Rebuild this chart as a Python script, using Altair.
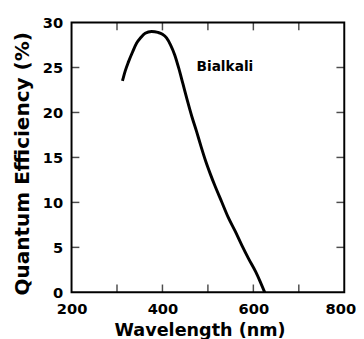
import altair as alt
import pandas as pd

wavelength = [312, 318, 325, 334, 343, 352, 362, 376, 390, 400, 409, 418, 427, 436, 445, 455,
              465, 475, 485, 495, 505, 515, 530, 545, 560, 575, 590, 605, 615, 625]
efficiency = [23.5, 24.6, 25.6, 26.7, 27.7, 28.3, 28.8, 29.0, 28.9, 28.7, 28.3, 27.5, 26.4, 24.9, 23.2, 21.3,
              19.5, 17.9, 16.2, 14.6, 13.2, 11.9, 10.1, 8.3, 6.8, 5.2, 3.7, 2.3, 1.2, 0.0]
x_ticks = [200, 300, 400, 500, 600, 700, 800]
y_ticks = [0, 5, 10, 15, 20, 25, 30]
x_inner_ticks = [300, 400, 500, 600, 700]
y_inner_ticks = [5, 10, 15, 20, 25]
label_text = ["Bialkali"]
label_x = [475]
label_y = [25.1]

FONT = "DejaVu Sans"
TICK = 8

curve = pd.DataFrame({"wl": wavelength, "qe": efficiency})
labels = pd.DataFrame({"wl": label_x, "qe": label_y, "t": label_text})
xt = pd.DataFrame({"wl": x_inner_ticks})
yt = pd.DataFrame({"qe": y_inner_ticks})

xscale = alt.Scale(domain=[200, 800], nice=False, zero=False)
yscale = alt.Scale(domain=[0, 30], nice=False)

xaxis = alt.Axis(
    orient="bottom", values=x_ticks, ticks=False, domain=False, grid=False,
    labelOverlap=False, labelFlush=False,
    labelExpr="datum.value % 200 == 0 ? datum.label : ''",
    labelOffset={"condition": {"test": "datum.value == 800", "value": -4}, "value": 0},
    labelPadding=10, labelFont=FONT, labelFontSize=15, labelFontWeight="bold", labelColor="black",
    title="Wavelength (nm)", titleFont=FONT, titleFontSize=18, titleFontWeight="bold",
    titleColor="black", titlePadding=5, titleX=131)
yaxis = alt.Axis(
    orient="left", values=y_ticks, ticks=False, domain=False, grid=False,
    labelOverlap=False, labelFlush=False,
    labelPadding=9, labelFont=FONT, labelFontSize=15, labelFontWeight="bold", labelColor="black",
    title="Quantum Efficiency (%)", titleFont=FONT, titleFontSize=20.5, titleFontWeight="bold",
    titleColor="black", titlePadding=10, titleY=144)

line = alt.Chart(curve).mark_line(color="black", strokeWidth=3, interpolate="monotone").encode(
    x=alt.X("wl:Q", scale=xscale, axis=xaxis),
    y=alt.Y("qe:Q", scale=yscale, axis=yaxis),
)

text = alt.Chart(labels).mark_text(
    align="left", baseline="middle", font=FONT, fontSize=14, fontWeight="bold", color="black"
).encode(
    x=alt.X("wl:Q", scale=xscale, axis=None),
    y=alt.Y("qe:Q", scale=yscale, axis=None),
    text="t:N",
)

bottom_ticks = alt.Chart(xt).mark_tick(
    orient="vertical", size=TICK, thickness=1.5, color="black", yOffset=-TICK / 2
).encode(x=alt.X("wl:Q", scale=xscale, axis=None), y=alt.YDatum(0, axis=None))
top_ticks = alt.Chart(xt).mark_tick(
    orient="vertical", size=TICK, thickness=1.5, color="black", yOffset=TICK / 2
).encode(x=alt.X("wl:Q", scale=xscale, axis=None), y=alt.YDatum(30, axis=None))
left_ticks = alt.Chart(yt).mark_tick(
    orient="horizontal", size=TICK, thickness=1.5, color="black", xOffset=TICK / 2
).encode(y=alt.Y("qe:Q", scale=yscale, axis=None), x=alt.XDatum(200, axis=None))
right_ticks = alt.Chart(yt).mark_tick(
    orient="horizontal", size=TICK, thickness=1.5, color="black", xOffset=-TICK / 2
).encode(y=alt.Y("qe:Q", scale=yscale, axis=None), x=alt.XDatum(800, axis=None))

chart = alt.layer(line, text, bottom_ticks, top_ticks, left_ticks, right_ticks).resolve_axis(
    x="independent", y="independent"
).properties(
    width=279, height=276,
    autosize=alt.AutoSizeParams(type="none"),
    padding={"left": 65, "top": 11, "right": 12, "bottom": 50},
).configure_view(stroke="black", strokeWidth=2)

chart.save("out.html", embed_options={"renderer": "svg", "actions": False})
